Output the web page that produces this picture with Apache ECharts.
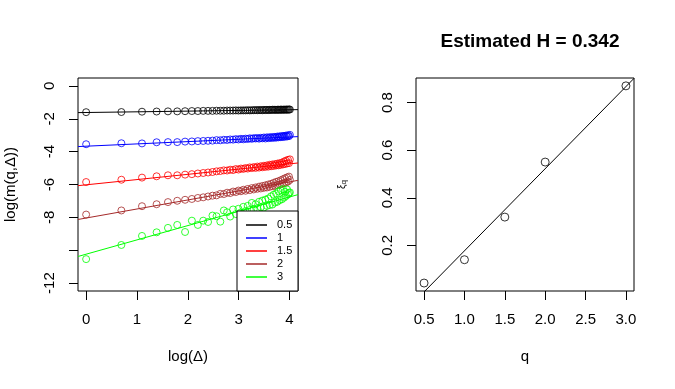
<!DOCTYPE html>
<html>
<head>
<meta charset="utf-8">
<script src="https://cdn.jsdelivr.net/npm/echarts@6/dist/echarts.min.js"></script>
<style>
  html, body { margin: 0; padding: 0; background: #fff; }
  #chart { width: 675px; height: 389px; }
</style>
</head>
<body>
<div id="chart"></div>
<script>
// lags and orders of the moments
const deltas = [1, 2, 3, 4, 5, 6, 7, 8, 9, 10, 11, 12, 13, 14, 15, 16, 17, 18, 19, 20,
  21, 22, 23, 24, 25, 26, 27, 28, 29, 30, 31, 32, 33, 34, 35, 36, 37, 38, 39, 40,
  41, 42, 43, 44, 45, 46, 47, 48, 49, 50, 51, 52, 53, 54, 55];
const qs = [0.5, 1, 1.5, 2, 3];
const qLabels = ['0.5', '1', '1.5', '2', '3'];

// log(m(q, delta))
const logM05 = [-1.60, -1.59, -1.57, -1.56, -1.55, -1.55, -1.54, -1.53, -1.53, -1.52,
  -1.52, -1.52, -1.51, -1.51, -1.51, -1.50, -1.50, -1.50, -1.49, -1.50,
  -1.49, -1.49, -1.49, -1.48, -1.49, -1.48, -1.48, -1.47, -1.48, -1.47,
  -1.47, -1.48, -1.46, -1.47, -1.46, -1.47, -1.46, -1.46, -1.45, -1.46,
  -1.45, -1.46, -1.45, -1.45, -1.46, -1.44, -1.45, -1.45, -1.44, -1.45,
  -1.44, -1.44, -1.45, -1.43, -1.44];
const logM1 = [-3.55, -3.49, -3.50, -3.43, -3.42, -3.42, -3.39, -3.38, -3.36, -3.35,
  -3.34, -3.33, -3.30, -3.31, -3.28, -3.29, -3.26, -3.27, -3.24, -3.26,
  -3.22, -3.25, -3.21, -3.23, -3.19, -3.22, -3.18, -3.20, -3.17, -3.21,
  -3.16, -3.19, -3.14, -3.20, -3.13, -3.18, -3.12, -3.17, -3.11, -3.16,
  -3.10, -3.15, -3.08, -3.13, -3.07, -3.12, -3.05, -3.11, -3.04, -3.09,
  -3.02, -3.08, -3.01, -3.06, -2.98];
const logM15 = [-5.85, -5.71, -5.58, -5.50, -5.44, -5.44, -5.40, -5.37, -5.33, -5.30,
  -5.27, -5.24, -5.20, -5.18, -5.14, -5.15, -5.10, -5.12, -5.06, -5.09,
  -5.03, -5.05, -5.00, -5.03, -4.96, -5.00, -4.94, -4.99, -4.91, -4.97,
  -4.89, -4.95, -4.86, -4.93, -4.84, -4.91, -4.80, -4.89, -4.78, -4.87,
  -4.76, -4.84, -4.73, -4.83, -4.70, -4.80, -4.68, -4.78, -4.60, -4.75,
  -4.55, -4.72, -4.50, -4.70, -4.47];
const logM2 = [-7.83, -7.58, -7.32, -7.20, -7.07, -6.99, -6.93, -6.88, -6.82, -6.78,
  -6.73, -6.68, -6.66, -6.57, -6.58, -6.50, -6.52, -6.43, -6.46, -6.37,
  -6.41, -6.32, -6.38, -6.27, -6.34, -6.22, -6.30, -6.18, -6.26, -6.13,
  -6.24, -6.09, -6.20, -6.05, -6.18, -6.00, -6.14, -5.96, -6.10, -5.90,
  -6.08, -5.84, -6.03, -5.80, -6.00, -5.74, -5.96, -5.68, -5.92, -5.62,
  -5.88, -5.57, -5.82, -5.52, -5.72];
const logM3 = [-10.54, -9.68, -9.13, -8.91, -8.64, -8.46, -8.89, -8.20, -8.46, -8.20,
  -8.28, -7.89, -7.93, -8.26, -7.58, -7.69, -7.95, -7.52, -7.80, -7.48,
  -7.70, -7.36, -7.62, -7.30, -7.55, -7.12, -7.50, -7.20, -7.45, -7.05,
  -7.38, -6.98, -7.40, -6.92, -7.30, -6.85, -7.25, -6.72, -7.22, -6.62,
  -7.10, -6.55, -7.05, -6.42, -6.95, -6.35, -6.90, -6.28, -6.80, -6.45,
  -6.70, -6.30, -6.60, -6.52, -6.48];
const logM = [logM05, logM1, logM15, logM2, logM3];

// fitted lines of the left panel: slope is xi(q), intercept read at log(delta)=0
const xi = [0.042, 0.14, 0.319, 0.55, 0.87];
const fitIntercept = [-1.62, -3.67, -6.02, -8.04, -10.24];

// ticks
const leftXTicks = [0, 1, 2, 3, 4];
const leftYTicks = [-12, -10, -8, -6, -4, -2, 0];
const leftYHidden = [-10];
const rightXTicks = [0.5, 1, 1.5, 2, 2.5, 3];
const rightYTicks = [0.2, 0.4, 0.6, 0.8];

const colors = ['#000000', '#0000ff', '#ff0000', '#a52a2a', '#00ff00'];
const FONT = '"Liberation Sans", Arial, sans-serif';

const leftX = [-0.16, 4.167];
const leftY = [-12.48, 0.48];
const rightX = [0.4, 3.1];
const rightY = [0.0086, 0.903];

// least squares line of xi on q
function lm(x, y) {
  const n = x.length;
  const mx = x.reduce((a, b) => a + b, 0) / n;
  const my = y.reduce((a, b) => a + b, 0) / n;
  let sxy = 0, sxx = 0;
  for (let i = 0; i < n; i++) {
    sxy += (x[i] - mx) * (y[i] - my);
    sxx += (x[i] - mx) * (x[i] - mx);
  }
  const b = sxy / sxx;
  return { a: my - b * mx, b: b };
}
const fit = lm(qs, xi);

function axisCommon(ticks, labelRotate, fmt, name, nameGap, nameSize) {
  return {
    type: 'value',
    axisLine: { show: false, onZero: false },
    splitLine: { show: false },
    axisTick: { show: true, inside: false, length: 9, customValues: ticks,
      lineStyle: { color: '#000', width: 1 } },
    axisLabel: { customValues: ticks, color: '#000', fontSize: 15, fontFamily: FONT,
      rotate: labelRotate, margin: 21, formatter: fmt },
    name: name,
    nameLocation: 'middle',
    nameGap: nameGap,
    nameTextStyle: { color: '#000', fontSize: nameSize, fontFamily: FONT }
  };
}

const series = [];
qs.forEach((q, k) => {
  series.push({
    type: 'scatter',
    xAxisIndex: 0, yAxisIndex: 0,
    data: deltas.map((d, i) => [Math.log(d), logM[k][i]]),
    symbol: 'circle',
    symbolSize: 7,
    itemStyle: { color: 'rgba(0,0,0,0)', borderColor: colors[k], borderWidth: 1 },
    silent: true
  });
  series.push({
    type: 'line',
    xAxisIndex: 0, yAxisIndex: 0,
    data: leftX.map(x => [x, fitIntercept[k] + xi[k] * x]),
    showSymbol: false,
    lineStyle: { color: colors[k], width: 1 },
    silent: true
  });
});
series.push({
  type: 'scatter',
  xAxisIndex: 1, yAxisIndex: 1,
  data: qs.map((q, i) => [q, xi[i]]),
  symbol: 'circle',
  symbolSize: 8,
  itemStyle: { color: 'rgba(0,0,0,0)', borderColor: '#000', borderWidth: 1 },
  silent: true
});
series.push({
  type: 'line',
  xAxisIndex: 1, yAxisIndex: 1,
  data: rightX.map(x => [x, fit.a + fit.b * x]),
  showSymbol: false,
  lineStyle: { color: '#000', width: 1 },
  silent: true
});

// legend box drawn by hand, like R's legend()
const legendItems = [];
legendItems.push({ type: 'rect', z: 100, shape: { x: 237, y: 211, width: 61, height: 80 },
  style: { fill: '#fff', stroke: '#000', lineWidth: 1 } });
qLabels.forEach((lab, k) => {
  const y = 225 + k * 13;
  legendItems.push({ type: 'line', z: 101, shape: { x1: 246, y1: y, x2: 267, y2: y },
    style: { stroke: colors[k], lineWidth: 1.5 } });
  legendItems.push({ type: 'text', z: 101, x: 277, y: y,
    style: { text: lab, fill: '#000', font: '11px ' + FONT, textVerticalAlign: 'middle' } });
});

const chart = echarts.init(document.getElementById('chart'));
chart.setOption({
  animation: false,
  backgroundColor: '#fff',
  title: {
    text: 'Estimated H = 0.342',
    left: 525, top: 27, textAlign: 'center',
    textStyle: { fontSize: 19, fontWeight: 'bold', color: '#000', fontFamily: FONT }
  },
  grid: [
    { left: 78, top: 78, width: 220, height: 213, show: true, borderColor: '#000', borderWidth: 1 },
    { left: 416, top: 78, width: 218, height: 213, show: true, borderColor: '#000', borderWidth: 1 }
  ],
  xAxis: [
    Object.assign(axisCommon(leftXTicks, 0, v => String(v), 'log(Δ)', 58, 15),
      { gridIndex: 0, min: leftX[0], max: leftX[1] }),
    Object.assign(axisCommon(rightXTicks, 0, v => v.toFixed(1), 'q', 58, 15),
      { gridIndex: 1, min: rightX[0], max: rightX[1] })
  ],
  yAxis: [
    Object.assign(axisCommon(leftYTicks, 90, v => leftYHidden.indexOf(v) >= 0 ? '' : String(v),
      'log(m(q,Δ))', 60, 15),
      { gridIndex: 0, min: leftY[0], max: leftY[1] }),
    Object.assign(axisCommon(rightYTicks, 90, v => v.toFixed(1), '{a|ξ}{b|q}', 68, 10),
      { gridIndex: 1, min: rightY[0], max: rightY[1] })
  ],
  series: series,
  graphic: legendItems
});
chart.setOption({
  yAxis: [{}, { nameTextStyle: { rich: {
    a: { fontSize: 10, fontFamily: FONT, color: '#000' },
    b: { fontSize: 8, fontFamily: FONT, color: '#000', verticalAlign: 'bottom', padding: [4, 0, 0, 0] }
  } } }]
});
</script>
</body>
</html>
